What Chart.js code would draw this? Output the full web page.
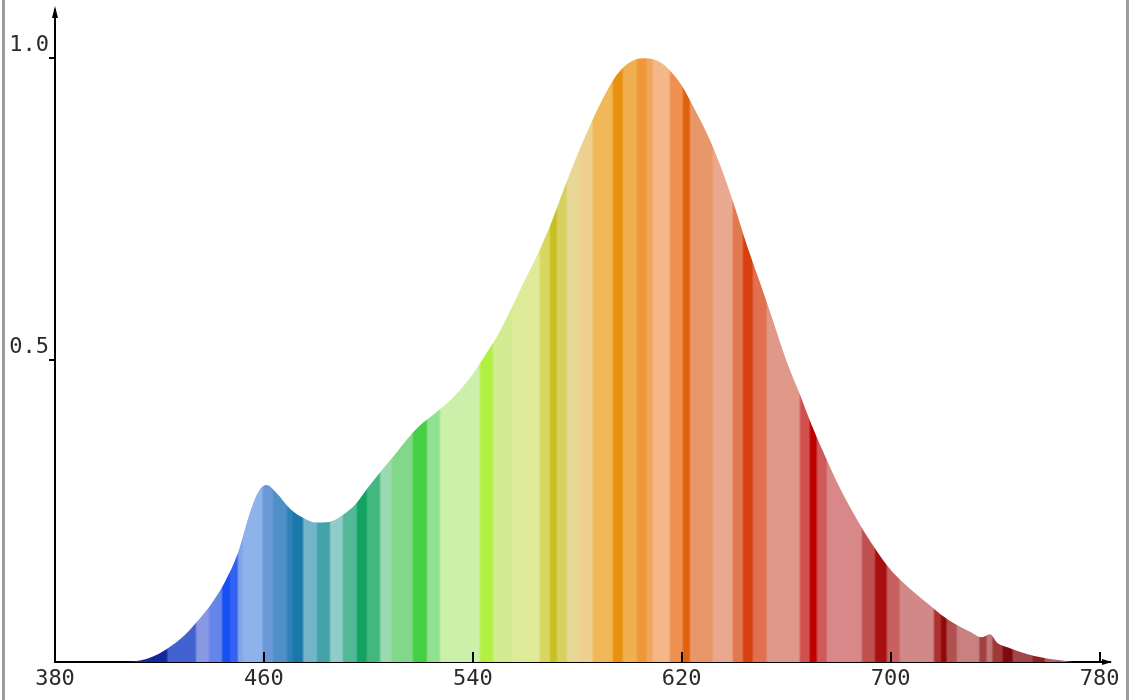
<!DOCTYPE html>
<html>
<head>
<meta charset="utf-8">
<script src="https://cdn.jsdelivr.net/npm/chart.js@4.4.1/dist/chart.umd.min.js"></script>
<style>
  html, body { margin: 0; padding: 0; background: #fff; }
  #wrap { position: relative; width: 1129px; height: 700px; }
  .borda { position: absolute; top: 0; width: 3px; height: 700px; background: #9c9c9c; }
</style>
</head>
<body>
<div id="wrap">
  <canvas id="espectro"></canvas>
  <div class="borda" style="left:2px"></div>
  <div class="borda" style="left:1126px"></div>
</div>
<script>
// comprimento de onda (nm) e intensidade relativa
var wavelengths = [405, 410, 415, 420, 425, 430, 435, 440, 445, 450, 455, 458, 461, 465, 470, 475, 480, 485, 490, 495,
    500, 505, 510, 515, 520, 525, 530, 535, 540, 545, 550, 555, 560, 565, 570, 575, 580, 585, 590, 595,
    600, 605, 610, 615, 620, 625, 630, 635, 640, 645, 650, 655, 660, 665, 670, 675, 680, 685, 690, 695,
    700, 705, 710, 715, 720, 725, 730, 735, 738, 741, 745, 750, 755, 760, 765, 770];
var intensity = [0, 0.001, 0.005, 0.014, 0.028, 0.046, 0.07, 0.097, 0.132, 0.18, 0.252, 0.283, 0.293, 0.279, 0.254, 0.239, 0.231, 0.232, 0.243, 0.261,
    0.29, 0.317, 0.343, 0.37, 0.393, 0.41, 0.428, 0.45, 0.477, 0.51, 0.545, 0.588, 0.633, 0.677, 0.727, 0.785, 0.84, 0.89, 0.935, 0.972,
    0.993, 1.0, 0.997, 0.982, 0.955, 0.915, 0.872, 0.82, 0.758, 0.69, 0.628, 0.565, 0.5, 0.446, 0.39, 0.34, 0.293, 0.252, 0.215, 0.182,
    0.153, 0.131, 0.112, 0.094, 0.076, 0.062, 0.051, 0.041, 0.046, 0.031, 0.024, 0.016, 0.01, 0.006, 0.003, 0];
var xTicks = [380, 460, 540, 620, 700, 780];
var yTicks = [0.5, 1.0];

// faixas de cor (início em nm) - só estilo
var faixaInicio = [405, 423, 434, 439, 444, 447, 450, 452, 459.5, 463.5, 468.8, 471, 475, 480.3, 485.3, 490.2, 495.6, 499.4,
    504.5, 509, 517, 522.4, 527.4, 542.7, 547.7, 555.3, 565.6, 569.5, 572.2, 576, 580.5, 585.9, 593.6, 597.4, 602.8, 606.6,
    608.9, 615.4, 620.4, 623.1, 631.9, 639.5, 643.4, 647.2, 652.5, 665.2, 669, 671.7, 675.5, 689, 694, 698.5, 703.4, 716.6,
    719.3, 721.4, 725.3, 734, 736.7, 739, 742.9, 746.7, 754.4, 759, 770];
var faixaCor = ['#13289a', '#4262d2', '#8898e2', '#6585ea', '#1450f2', '#3262f0', '#84a4e8', '#8eb2ea', '#6a98d8', '#5090c8',
    '#3080b8', '#1a78a8', '#72b4c8', '#42a2a8', '#92ccc8', '#52b898', '#12a262', '#42b880', '#9adab0', '#80d888', '#44d044',
    '#92e092', '#cbf0aa', '#b2f042', '#d2ec92', '#e0eb9a', '#d8d860', '#c8c020', '#d8d060', '#e8d898', '#f0d090', '#f0b858',
    '#e89010', '#f0b050', '#f09838', '#f0a860', '#f4b888', '#f09050', '#e06010', '#e89868', '#eaa890', '#e07850', '#d84010',
    '#e07050', '#e09888', '#d05050', '#c00000', '#d05858', '#d88888', '#c05050', '#a81010', '#c86060', '#d08888', '#b03030',
    '#900808', '#b05050', '#c88080', '#a04040', '#c07878', '#a03838', '#800810', '#a04848', '#902020', '#b06060'];

var gradCache = null;
function faixas(context) {
    var chart = context.chart;
    var area = chart.chartArea;
    if (!area) return '#cccccc';
    if (gradCache) return gradCache;
    var sx = chart.scales.x;
    var g = chart.ctx.createLinearGradient(area.left, 0, area.right, 0);
    var w = area.right - area.left;
    var pos = function (px) { return Math.min(1, Math.max(0, (px - area.left) / w)); };
    for (var i = 0; i < faixaCor.length; i++) {
        var p0 = sx.getPixelForValue(faixaInicio[i]);
        var p1 = sx.getPixelForValue(faixaInicio[i + 1]);
        var b = Math.min(1.2, (p1 - p0) * 0.25);
        g.addColorStop(pos(p0 + b), faixaCor[i]);
        g.addColorStop(pos(p1 - b), faixaCor[i]);
    }
    gradCache = g;
    return g;
}

// ticks para dentro e setas dos eixos
var eixos = {
    id: 'eixos',
    afterDraw: function (chart) {
        var c = chart.ctx, x = chart.scales.x, y = chart.scales.y, a = chart.chartArea;
        c.save();
        c.strokeStyle = '#000';
        c.fillStyle = '#000';
        c.lineWidth = 2;
        xTicks.forEach(function (v, i) {
            if (i === 0) return;
            var px = Math.round(x.getPixelForValue(v));
            c.beginPath(); c.moveTo(px, a.bottom); c.lineTo(px, a.bottom - 10); c.stroke();
        });
        yTicks.forEach(function (v) {
            var py = Math.round(y.getPixelForValue(v));
            c.beginPath(); c.moveTo(a.left - 6, py); c.lineTo(a.left, py); c.stroke();
        });
        c.beginPath(); c.moveTo(a.left, a.top - 4); c.lineTo(a.left - 3, a.top + 8); c.lineTo(a.left + 3, a.top + 8); c.fill();
        c.beginPath(); c.moveTo(a.right + 2, a.bottom); c.lineTo(a.right - 8, a.bottom - 3); c.lineTo(a.right - 8, a.bottom + 3); c.fill();
        c.restore();
    }
};

var fonte = { family: "'DejaVu Sans Mono', monospace", size: 22 };

new Chart(document.getElementById('espectro'), {
    type: 'line',
    data: {
        datasets: [{
            data: wavelengths.map(function (w, i) { return { x: w, y: intensity[i] }; }),
            fill: 'origin',
            backgroundColor: faixas,
            borderWidth: 0,
            pointRadius: 0,
            cubicInterpolationMode: 'monotone'
        }]
    },
    options: {
        responsive: true,
        maintainAspectRatio: false,
        animation: false,
        layout: { padding: { top: 10, right: 19, left: 0, bottom: 0 } },
        plugins: { legend: { display: false }, tooltip: { enabled: false } },
        scales: {
            x: {
                type: 'linear',
                min: 380,
                max: 784,
                afterBuildTicks: function (s) { s.ticks = xTicks.map(function (v) { return { value: v }; }); },
                afterFit: function (s) { s.height = 38; s.paddingLeft = 0; s.paddingRight = 0; },
                grid: { display: false, drawTicks: false },
                border: { display: true, color: '#000', width: 2 },
                ticks: { color: '#2a2a2a', font: fonte, padding: 4, maxRotation: 0 }
            },
            y: {
                min: 0,
                max: 1.08,
                afterBuildTicks: function (s) { s.ticks = yTicks.map(function (v) { return { value: v }; }); },
                afterFit: function (s) { s.width = 55; s.paddingTop = 0; s.paddingBottom = 0; },
                grid: { display: false, drawTicks: false },
                border: { display: true, color: '#000', width: 2 },
                ticks: {
                    color: '#2a2a2a', font: fonte, padding: 6, labelOffset: -13,
                    callback: function (v) { return v.toFixed(1); }
                }
            }
        }
    },
    plugins: [eixos]
});
</script>
</body>
</html>
